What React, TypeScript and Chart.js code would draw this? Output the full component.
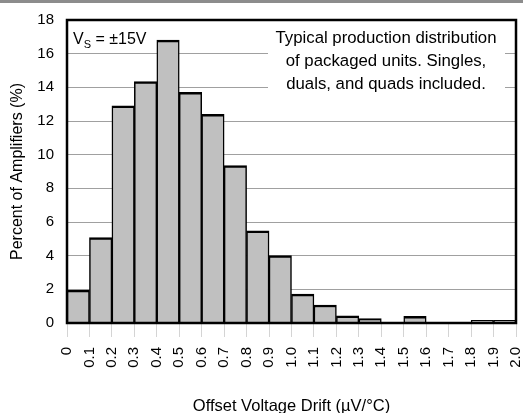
import { useEffect, useRef } from "react";
import { Chart, registerables } from "chart.js";

Chart.register(...registerables);

const binEdges = [0, 0.1, 0.2, 0.3, 0.4, 0.5, 0.6, 0.7, 0.8, 0.9, 1.0, 1.1, 1.2, 1.3, 1.4, 1.5, 1.6, 1.7, 1.8, 1.9, 2.0];
const xTickLabels = ["0", "0.1", "0.2", "0.3", "0.4", "0.5", "0.6", "0.7", "0.8", "0.9", "1.0", "1.1", "1.2", "1.3", "1.4", "1.5", "1.6", "1.7", "1.8", "1.9", "2.0"];
const percentValues = [1.95, 5.07, 12.9, 14.34, 16.8, 13.7, 12.4, 9.35, 5.48, 4.0, 1.72, 1.07, 0.42, 0.26, 0, 0.4, 0, 0, 0.16, 0.16];
const yTickValues = [0, 2, 4, 6, 8, 10, 12, 14, 16, 18];
const xAxisTitle = "Offset Voltage Drift (\u00B5V/\u00B0C)";
const yAxisTitle = "Percent of Amplifiers (%)";
const noteLines = ["Typical production distribution", "of packaged units. Singles,", "duals, and quads included."];

const FONT = '"Liberation Sans", Arial, Helvetica, sans-serif';

export default function App() {
  const ref = useRef<HTMLCanvasElement>(null);

  useEffect(() => {
    if (!ref.current) return;
    const data = percentValues.map((v, i) => ({ x: (binEdges[i] + binEdges[i + 1]) / 2, y: v }));

    const deco = {
      id: "deco",
      beforeDraw(chart: any) {
        const ctx = chart.ctx;
        ctx.save();
        ctx.fillStyle = "#ffffff";
        ctx.fillRect(0, 0, chart.width, chart.height);
        ctx.fillStyle = "#8c8c8c";
        ctx.fillRect(0, 0, chart.width, 3);
        ctx.restore();
      },
      beforeDatasetsDraw(chart: any) {
        const { ctx, chartArea: a } = chart;
        ctx.save();
        ctx.fillStyle = "#ffffff";
        ctx.fillRect(a.left + 201, a.top + 2, 237, 74);
        ctx.restore();
      },
      afterDatasetsDraw(chart: any) {
        const { ctx, chartArea: a } = chart;
        ctx.save();
        ctx.strokeStyle = "#000";
        ctx.lineWidth = 2.5;
        ctx.strokeRect(a.left, a.top, a.right - a.left, a.bottom - a.top);

        ctx.fillStyle = "#000";
        ctx.textBaseline = "alphabetic";
        ctx.textAlign = "left";
        // V_S = ±15V
        let x = a.left + 6;
        const yb = a.top + 24;
        ctx.font = `16px ${FONT}`;
        ctx.fillText("V", x, yb);
        x += ctx.measureText("V").width;
        ctx.font = `11px ${FONT}`;
        ctx.fillText("S", x, yb + 4);
        x += ctx.measureText("S").width;
        ctx.font = `16px ${FONT}`;
        ctx.fillText(" = \u00B115V", x, yb);

        ctx.textAlign = "center";
        ctx.font = `16.8px ${FONT}`;
        const cx = a.left + 319;
        noteLines.forEach((t, i) => ctx.fillText(t, cx, a.top + 22.5 + i * 23));
        ctx.restore();
      },
    };

    const chart = new Chart(ref.current, {
      type: "bar",
      data: {
        datasets: [
          {
            data,
            backgroundColor: "#c0c0c0",
            borderColor: "#000000",
            borderWidth: { top: 2.5, left: 1.5, right: 1.5, bottom: 0 },
            borderSkipped: false,
            barPercentage: 1,
            categoryPercentage: 1,
          } as any,
        ],
      },
      options: {
        responsive: false,
        animation: false,
        devicePixelRatio: 1,
        font: { family: FONT },
        layout: { padding: { top: 20, right: 7, left: 0, bottom: 0 } },
        plugins: { legend: { display: false }, tooltip: { enabled: false } },
        scales: {
          x: {
            type: "linear",
            min: 0,
            max: 2,
            offset: false,
            afterBuildTicks: (s: any) => {
              s.ticks = binEdges.map((v) => ({ value: v }));
            },
            afterFit: (s: any) => {
              s.height = 90;
              s.paddingLeft = 0;
              s.paddingRight = 0;
            },
            ticks: {
              autoSkip: false,
              minRotation: 90,
              maxRotation: 90,
              padding: 10,
              color: "#000",
              font: { family: FONT, size: 15 },
              callback: (_v: any, i: number) => xTickLabels[i],
            },
            grid: { drawOnChartArea: false, drawTicks: true, tickLength: 14, color: "#d4d4d4", offset: false },
            border: { display: false },
            title: {
              display: true,
              text: xAxisTitle,
              color: "#000",
              font: { family: FONT, size: 16.5, lineHeight: 1 },
              padding: { top: 0, bottom: -2 },
            },
          },
          y: {
            min: 0,
            max: 18,
            afterBuildTicks: (s: any) => {
              s.ticks = yTickValues.map((v) => ({ value: v }));
            },
            afterFit: (s: any) => {
              s.width = 67;
              s.paddingTop = 0;
              s.paddingBottom = 0;
            },
            ticks: { padding: 13, color: "#000", font: { family: FONT, size: 15 } },
            grid: { color: "#a0a0a0", drawTicks: false, lineWidth: 1 },
            border: { display: false },
            title: {
              display: true,
              text: yAxisTitle,
              color: "#000",
              font: { family: FONT, size: 16, lineHeight: 1 },
              padding: { top: 10, bottom: 0 },
            },
          },
        },
      } as any,
      plugins: [deco],
    });
    return () => chart.destroy();
  }, []);

  return (
    <div style={{ position: "absolute", left: 0, top: 0, width: 523, height: 413 }}>
      <canvas ref={ref} width={523} height={413} style={{ display: "block" }} />
    </div>
  );
}
